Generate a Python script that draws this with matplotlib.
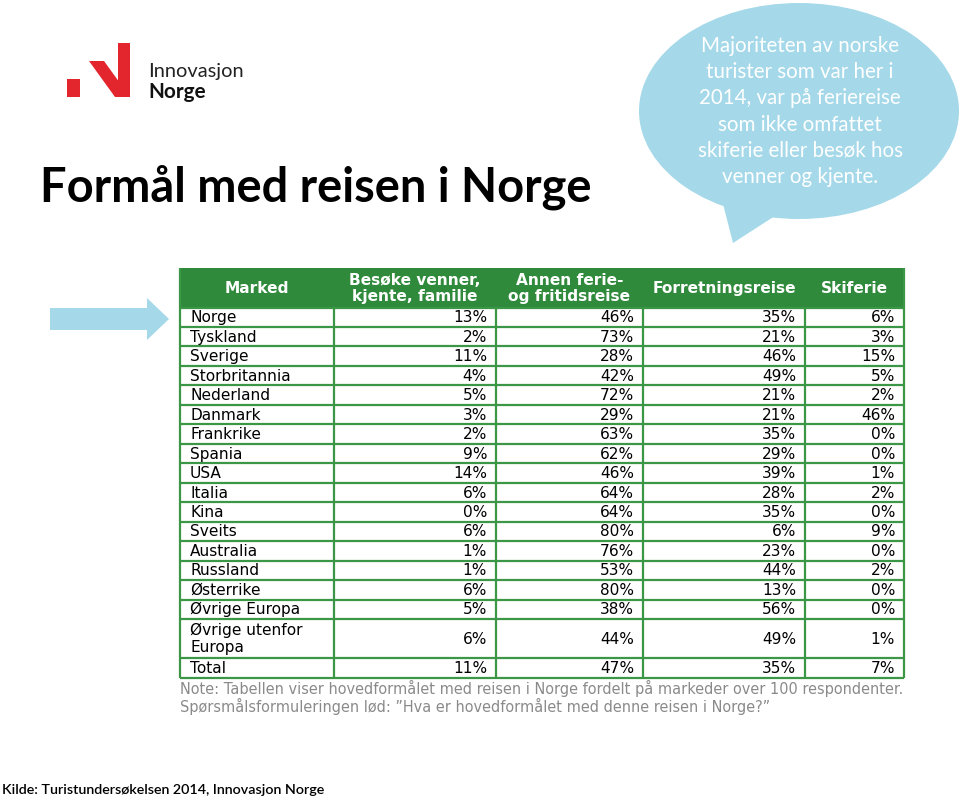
import matplotlib
matplotlib.use("Agg")
import matplotlib.pyplot as plt
from matplotlib.patches import Rectangle, Polygon, Ellipse
import numpy as np

# ---------------- data ----------------
markets = ["Norge", "Tyskland", "Sverige", "Storbritannia", "Nederland", "Danmark",
           "Frankrike", "Spania", "USA", "Italia", "Kina", "Sveits", "Australia",
           "Russland", "Østerrike", "Øvrige Europa", "Øvrige utenfor\nEuropa", "Total"]
besoke = [13, 2, 11, 4, 5, 3, 2, 9, 14, 6, 0, 6, 1, 1, 6, 5, 6, 11]
annen = [46, 73, 28, 42, 72, 29, 63, 62, 46, 64, 64, 80, 76, 53, 80, 38, 44, 47]
forretning = [35, 21, 46, 49, 21, 21, 35, 29, 39, 28, 35, 6, 23, 44, 13, 56, 49, 35]
skiferie = [6, 3, 15, 5, 2, 46, 0, 0, 1, 2, 0, 9, 0, 2, 0, 0, 1, 7]
headers = ["Marked", "Besøke venner,\nkjente, familie", "Annen ferie-\nog fritidsreise",
           "Forretningsreise", "Skiferie"]
title = "Formål med reisen i Norge"
bubble_lines = ["Majoriteten av norske", "turister som var her i", "2014, var på feriereise",
                "som ikke omfattet", "skiferie eller besøk hos", "venner og kjente."]
note_lines = ["Note: Tabellen viser hovedformålet med reisen i Norge fordelt på markeder over 100 respondenter.",
              "Spørsmålsformuleringen lød: \u201dHva er hovedformålet med denne reisen i Norge?\u201d"]
source = "Kilde: Turistundersøkelsen 2014, Innovasjon Norge"

# ---------------- layout ----------------
W, H = 960, 798
fig = plt.figure(figsize=(W / 100, H / 100), dpi=100)
ax = fig.add_axes([0, 0, 1, 1])
ax.set_xlim(0, W)
ax.set_ylim(H, 0)
ax.axis("off")
fig.canvas.draw()
renderer = fig.canvas.get_renderer()


def fit(t, width):
    bb = t.get_window_extent(renderer)
    t.set_fontsize(t.get_fontsize() * width / bb.width)


GREEN = "#2f8a3b"
LINE = "#3b9646"
BLUE = "#a5d9e9"

# logo
ax.add_patch(Rectangle((67, 79), 13, 18, color="#e3262d", lw=0))
ax.add_patch(Polygon([(89, 61), (104, 61), (130, 97), (115, 97)], color="#e3262d", lw=0))
ax.add_patch(Rectangle((118, 43), 12, 54, color="#e3262d", lw=0))
t = ax.text(148, 77, "Innovasjon", family="Lato", fontsize=14, color="#222222", va="baseline")
fit(t, 96)
t = ax.text(148, 98, "Norge", family="Lato", fontweight="bold", fontsize=14, color="#111111", va="baseline")
fit(t, 58)

# title
t = ax.text(40, 201, title, family="Lato", fontweight="bold", fontsize=30, color="black", va="baseline")
fit(t, 552)

# speech bubble
ax.add_patch(Polygon([(722, 200), (733, 243), (778, 214)], color=BLUE, lw=0))
ax.add_patch(Ellipse((799, 111), 320, 216, color=BLUE, lw=0))
for i, line in enumerate(bubble_lines):
    ax.text(800, 46 + i * 26.2, line, family="Lato", fontsize=14.8, color="white",
            ha="center", va="center")

# arrow
ax.add_patch(Polygon([(50, 308), (147, 308), (147, 298), (169, 319), (147, 340), (147, 330), (50, 330)],
                     color=BLUE, lw=0))

# table
col_edges = [180, 334, 496, 643, 805, 904]
head_top, body_top, body_bot = 267.5, 307.5, 677.5
units = [2 if "\n" in m else 1 for m in markets]
u = (body_bot - body_top) / sum(units)
row_edges = body_top + np.concatenate([[0], np.cumsum(units)]) * u

ax.add_patch(Rectangle((col_edges[0], head_top), col_edges[-1] - col_edges[0], body_top - head_top,
                       color=GREEN, lw=0))
for j, h in enumerate(headers):
    cx = (col_edges[j] + col_edges[j + 1]) / 2
    ax.text(cx, (head_top + body_top) / 2 + 1, h, family="DejaVu Sans", fontweight="bold",
            fontsize=11.1, color="white", ha="center", va="center", linespacing=1.15)

cols = [besoke, annen, forretning, skiferie]
for i, m in enumerate(markets):
    cy = (row_edges[i] + row_edges[i + 1]) / 2 + 0.5
    ax.text(col_edges[0] + 10, cy, m, family="DejaVu Sans", fontsize=11.1, color="black",
            ha="left", va="center", linespacing=1.15)
    for j, c in enumerate(cols):
        ax.text(col_edges[j + 2] - 9, cy, f"{c[i]}%", family="DejaVu Sans", fontsize=11.1,
                color="black", ha="right", va="center")

for y in row_edges:
    ax.plot([col_edges[0], col_edges[-1]], [y, y], color=LINE, lw=1.6, solid_capstyle="butt")
for k, x in enumerate(col_edges):
    y0 = head_top if k in (0, len(col_edges) - 1) else body_top
    ax.plot([x, x], [y0, body_bot], color=LINE, lw=1.6, solid_capstyle="butt")

# note
t1 = ax.text(180, 688, note_lines[0], family="DejaVu Sans", fontsize=9, color="#8a8a8a", va="center")
fit(t1, 723)
ax.text(180, 706, note_lines[1], family="DejaVu Sans", fontsize=t1.get_fontsize(), color="#8a8a8a",
        va="center")

# source
t = ax.text(2, 790, source, family="Lato", fontweight="semibold", fontsize=11, color="black", va="center")
fit(t, 323)

fig.savefig("out.png", dpi=100)
